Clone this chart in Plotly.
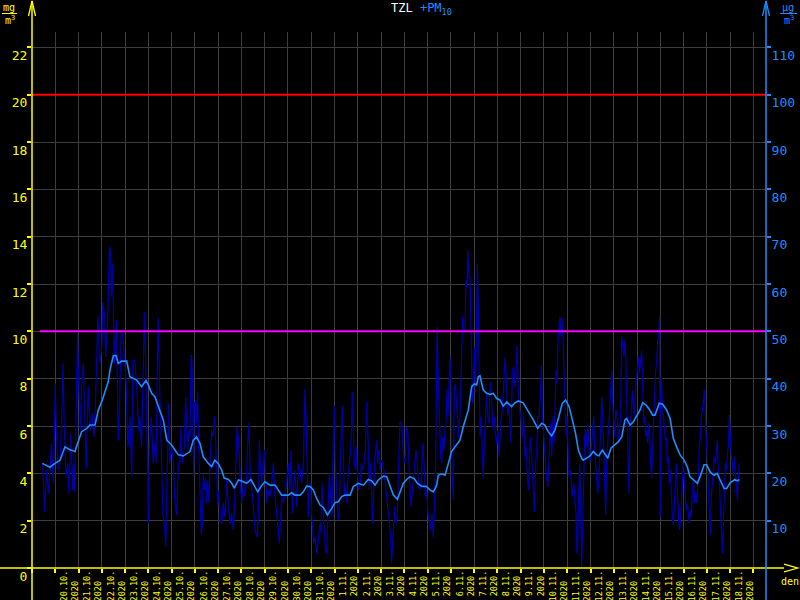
import pandas as pd
import plotly.graph_objects as go

# ---------------- data ----------------
# hours since 2020-10-19 00:00, PM10 hourly concentration (ug/m3)
pm10_hours = [
    11, 13, 15, 17, 19, 20, 22, 24, 25, 27, 29, 30, 32, 33, 35, 37, 38, 40, 42, 43,
    44, 45, 47, 48, 50, 51, 53, 54, 56, 58, 60, 62, 64, 65, 67, 68, 70, 72, 73, 75,
    76, 78, 79, 80, 81, 82, 83, 84, 85, 87, 89, 90, 92, 94, 96, 97, 99, 101, 103, 104,
    106, 108, 110, 111, 113, 115, 116, 118, 120, 121, 123, 125, 127, 128, 130, 132, 134, 135, 137, 138,
    139, 141, 142, 144, 146, 147,
    149.2, 150.9, 152.6, 153.6, 155.0, 157.1, 158.5, 159.5, 160.5, 161.9, 163.0, 164.0, 164.7, 165.7,
    166.7, 167.4, 168.8, 169.8, 170.8, 171.5, 172.6, 173.6, 174.6, 175.7, 176.7, 177.7, 179.1, 180.1,
    181.2, 182.5, 183.6, 185.3, 187.0, 188.0, 189.1, 190.1, 191.5, 192.8, 194.2, 195.6, 197.3, 199.0,
    200.8, 202.5, 204.2, 205.9, 207.6, 209.3, 210.4, 211.4, 212.8, 213.8, 215.2, 216.2, 218.0, 219.7,
    221.4, 222.4, 223.8, 224.8, 225.8, 227.2, 228.6, 230.0, 231.0, 232.0, 233.4, 234.4, 235.5, 236.9,
    237.9, 239.6, 241.0, 242.4, 243.7, 245.4, 247.2, 248.9, 250.6, 252.3, 254.0, 255.1, 256.1, 257.5,
    259.2, 260.9, 262.6, 264.4, 266.1, 267.1, 268.5, 269.5, 271.2, 273.0, 274.7, 276.4, 278.1, 279.8,
    280.8, 281.5, 282.6, 283.9, 285.0, 286.0, 287.4, 288.4, 289.5, 290.5, 291.9, 293.6, 295.3, 296.3,
    297.0, 298.0, 299.1, 300.4, 301.8, 302.8, 303.9, 305.3, 306.6, 308.0, 309.4, 310.8, 311.8, 312.8,
    314.2, 315.6, 316.6, 317.6, 319.0, 320.0, 321.1, 322.1, 323.1, 324.5, 325.9, 327.3, 328.6, 329.7,
    330.3, 331.4, 332.4, 333.8, 334.8, 335.8, 336.9, 338.3, 339.6, 341.0, 342.4, 343.8, 345.1, 346.9,
    347.9, 349.3, 350.3, 351.3, 352.4, 353.7, 355.4, 356.5, 357.5, 358.9, 360.3, 361.6, 363.0, 364.4,
    365.8, 366.8, 367.8, 368.9, 369.9, 370.9, 371.9, 373.0, 374.0, 375.4, 376.8, 378.1, 379.5, 381.2,
    382.3, 383.6, 385.0, 386.4, 387.4, 388.5, 389.8, 390.9, 391.9, 393.3, 394.6, 396.0, 397.4, 398.8,
    400.1, 401.5, 402.9, 404.3, 405.6, 407.0, 408.4, 409.8, 411.1, 412.5, 413.9, 415.3, 416.3, 417.3,
    418.0, 419.0, 420.1, 421.5, 422.5, 423.5, 424.9, 425.9, 427.0, 428.0, 429.0, 430.4, 431.1, 432.1,
    433.1, 434.5, 435.5, 436.6, 438.0, 439.0, 440.0, 441.4, 443.1, 444.1, 445.2,
    446.6, 447.6, 448.7, 449.4, 450.0, 450.7, 451.8, 452.8, 453.5, 454.2, 455.2, 456.2, 457.3, 458.3,
    459.3, 460.4, 461.0, 462.1, 463.1, 464.5, 465.5, 466.5, 467.9, 468.9, 470.0, 471.4, 472.4, 473.4,
    474.1, 475.5, 476.9, 477.9, 479.3, 480.3, 481.7, 482.7, 483.7, 485.1, 486.5, 487.9, 489.2, 490.6,
    492.0, 493.0, 494.0, 495.4, 496.8, 498.2, 499.2, 500.2, 501.6, 503.0, 504.4, 505.7, 507.1, 508.5,
    509.5, 510.5, 511.9, 513.0, 514.0, 515.4, 516.4, 517.4, 518.1, 519.5, 520.5, 521.5, 522.9, 524.3,
    525.3, 526.4, 527.7, 529.1, 530.5, 531.9, 532.9, 533.9, 535.0, 536.0, 537.4, 538.4, 539.4, 540.5,
    541.5, 542.5, 543.6, 544.6, 545.6, 546.6, 547.7, 548.7, 549.7, 550.8, 551.8, 552.8, 553.9, 554.9,
    555.9, 557.0, 558.0, 559.0, 560.1, 561.1, 561.8, 562.8, 563.8, 564.9, 565.9, 566.9, 568.0, 569.0,
    570.0, 571.1, 572.1, 573.1, 574.2, 575.2, 576.2, 577.2, 578.3, 579.3, 580.3, 581.4, 582.4, 583.4,
    584.5, 585.5, 586.5, 587.6, 588.6, 589.6, 590.7, 591.7, 592.7, 593.7, 594.8, 595.8, 596.8, 597.9,
    598.9, 599.9, 601.0,
    602.3, 603.7, 604.7, 605.7, 607.1, 608.1, 609.2, 609.9, 610.5, 611.6, 612.6, 613.6, 614.7, 615.7,
    616.7, 618.1, 619.5, 620.9, 621.9, 622.9, 624.3, 625.3, 626.4, 627.7, 628.8, 629.8, 630.8, 631.9,
    632.9, 633.9, 635.0, 636.0, 637.0, 638.0, 639.1, 640.1, 641.1, 642.2, 643.2, 644.2, 645.3, 646.3,
    647.3, 648.0, 649.0, 650.1, 651.1, 652.1, 653.2, 654.2, 655.2, 656.3, 657.3, 658.3, 659.4, 660.4,
    661.4, 662.5, 663.5, 664.5, 665.5, 666.6, 667.6, 668.6, 669.7, 670.7, 671.7, 672.8, 673.8, 674.8,
    675.9, 676.9, 677.9, 679.0, 680.0, 681.0, 682.1, 683.1, 684.1, 685.1, 686.2, 687.2, 688.2, 689.3,
    690.3, 691.3, 692.4, 693.4, 694.4, 695.5, 696.5, 697.5, 698.6, 699.6, 700.6, 701.6, 702.7, 703.7,
    704.7, 705.8, 706.8, 707.8, 708.9, 709.9, 710.9, 712.0, 713.0, 714.0, 715.1, 716.1, 717.1, 718.2,
    719.2, 720.2, 721.2, 722.3, 723.3, 724.3, 725.4, 726.4, 727.4, 728.5, 729.5,
]
pm10_values = [
    22.1, 11.9, 20.7, 15.8, 22.1, 26.3, 17.9, 39.0, 29.1, 20.7, 23.5, 27.0, 43.2, 32.0, 19.3, 22.1, 15.8, 28.4, 16.5, 22.1,
    16.1, 27.7, 49.6, 40.4, 29.1, 38.3, 43.2, 34.8, 21.0, 38.3, 29.1, 32.7, 27.7, 32.0, 47.4, 53.1, 43.2, 46.7, 56.2, 53.1,
    44.6, 52.4, 59.8, 67.9, 67.2, 57.3, 64.3, 55.2, 43.2, 52.4, 27.0, 32.0, 50.3, 48.2, 41.1, 39.7, 25.6, 32.0, 19.3, 43.9,
    43.9, 38.3, 29.1, 32.0, 25.6, 41.8, 54.1, 36.2, 9.4, 25.6, 32.0, 22.1, 26.3, 22.1, 53.1, 34.8, 20.7, 11.5, 8.0, 4.5,
    16.5, 34.8, 22.1, 25.6, 22.1, 15.1,
    11.2, 22.1, 22.8, 29.8, 22.1, 25.6, 36.2, 29.1, 24.9, 29.1, 27.7, 45.0, 44.6, 39.0,
    19.3, 35.1, 34.8, 30.6, 37.2, 29.1, 17.9, 13.7, 7.0, 9.4, 20.0, 16.5, 18.9, 13.7,
    18.6, 13.7, 22.1, 29.1, 27.7, 32.0, 29.8, 22.1, 13.0, 16.5, 10.1, 9.4, 13.7, 10.8,
    18.6, 13.0, 9.4, 11.5, 8.0, 15.1, 24.9, 29.8, 27.7, 22.1, 17.2, 13.7, 17.9, 15.1,
    19.3, 26.3, 30.6, 22.1, 17.9, 15.8, 11.5, 8.0, 7.3, 6.6, 10.8, 27.0, 22.1, 17.9,
    20.7, 24.9, 18.6, 13.7, 16.5, 15.1, 17.9, 22.1, 15.1, 12.2, 8.0, 5.2, 10.8, 15.1,
    13.7, 15.8, 17.9, 22.1, 16.5, 24.9, 11.5, 15.8, 20.6, 13.0, 22.1, 20.7, 17.9, 22.1,
    30.6, 37.9, 32.0, 22.1, 10.8, 16.5, 17.9, 11.5, 7.3, 5.2, 6.6, 3.1, 5.9, 9.4,
    9.4, 7.3, 17.9, 11.5, 6.6, 3.8, 3.1, 13.0, 20.0, 15.1, 10.8, 27.7, 34.1, 22.1,
    15.1, 10.8, 10.1, 19.3, 29.1, 34.1, 22.1, 15.1, 17.9, 13.7, 19.3, 22.1, 24.9, 29.8,
    37.2, 29.1, 22.1, 20.7, 25.6, 19.3, 16.5, 17.9, 22.1, 20.7, 22.1, 24.9, 35.1, 25.6,
    16.5, 22.1, 13.7, 9.4, 16.5, 23.5, 27.0, 22.1, 24.9, 20.7, 22.8, 22.1, 20.7, 17.9,
    13.7, 12.2, 10.1, 8.0, 6.6, 1.0, 5.9, 10.1, 13.0, 9.4, 11.5, 22.1, 30.9, 30.6,
    26.3, 22.1, 23.5, 29.8, 29.1, 22.1, 16.5, 13.0, 15.1, 17.9, 20.7, 24.9, 22.1, 17.2,
    16.5, 17.9, 26.3, 22.1, 15.1, 16.5, 11.5, 9.4, 8.0, 11.5, 6.6, 15.1, 22.1, 41.8,
    51.0, 39.7, 32.0, 23.5, 22.1, 27.7, 24.9, 29.8, 30.6, 37.6, 32.0, 41.8, 44.6, 39.0,
    20.7, 14.4, 38.3, 39.0, 33.4, 30.6, 27.7, 32.0, 42.5, 53.1, 50.3,
    50.3, 60.8, 59.4, 67.2, 64.3, 61.5, 61.5, 48.9, 42.5, 34.8, 39.0, 46.7, 36.9, 53.1,
    64.3, 53.8, 43.2, 27.7, 32.0, 23.5, 18.9, 27.7, 34.8, 36.9, 32.0, 30.6, 39.0, 39.0,
    34.8, 29.1, 32.0, 28.4, 26.3, 29.1, 23.5, 27.7, 31.3, 33.4, 41.1, 44.6, 39.7, 32.0,
    34.8, 29.1, 26.3, 41.8, 42.5, 38.3, 41.1, 47.1, 37.6, 33.4, 31.3, 27.7, 32.0, 23.5,
    25.6, 21.4, 16.5, 22.1, 27.7, 23.5, 18.6, 15.1, 11.9, 22.1, 24.9, 32.0, 32.0, 36.2,
    42.9, 32.0, 27.7, 22.1, 19.3, 17.2, 22.1, 26.3, 30.6, 23.5, 32.0, 26.3, 32.7, 41.8,
    39.0, 48.2, 51.0, 53.1, 48.9, 52.7, 48.2, 39.7, 37.6, 27.7, 32.0, 23.5, 19.3, 20.7,
    19.3, 15.1, 16.5, 17.9, 13.7, 11.5, 3.1, 6.6, 15.1, 22.1, 13.7, 0.3, 9.4, 16.5,
    27.7, 29.1, 25.6, 30.6, 26.3, 22.1, 23.5, 26.3, 30.6, 32.0, 24.9, 22.1, 20.0, 15.8,
    17.9, 23.5, 26.3, 36.2, 32.0, 25.6, 17.9, 11.2, 22.1, 26.3, 30.6, 36.2, 40.4, 41.8,
    34.8, 30.6, 27.7,
    33.4, 32.0, 26.3, 29.1, 32.0, 48.9, 46.7, 46.0, 44.6, 48.2, 43.2, 32.7, 20.0, 15.8,
    29.1, 33.4, 37.6, 32.0, 36.2, 39.0, 41.8, 44.6, 41.1, 44.6, 46.0, 38.3, 30.6, 32.0,
    27.7, 29.1, 26.3, 30.6, 27.7, 22.1, 18.9, 25.6, 32.0, 37.6, 41.8, 43.2, 48.2, 48.9,
    53.1, 10.8, 40.4, 34.8, 32.0, 29.1, 27.0, 27.6, 22.1, 23.5, 17.9, 20.7, 15.1, 10.8,
    9.1, 13.7, 18.6, 22.1, 16.5, 10.8, 8.0, 9.4, 15.1, 17.9, 22.1, 17.9, 13.7, 12.2,
    13.7, 10.8, 9.4, 12.2, 10.8, 16.5, 18.6, 13.7, 15.8, 13.7, 16.5, 19.3, 25.6, 27.7,
    32.0, 33.4, 34.8, 37.6, 32.0, 26.3, 22.1, 17.9, 11.5, 7.0, 15.1, 17.9, 20.6, 23.5,
    22.1, 24.9, 27.0, 20.7, 17.9, 13.0, 8.0, 3.1, 9.4, 17.9, 22.1, 20.7, 23.5, 26.3,
    32.3, 26.3, 23.5, 22.1, 19.3, 23.5, 20.7, 17.9, 14.4, 19.3, 22.1,
]

# hours since 2020-10-19 00:00, running 24h mean of PM10 (ug/m3)
avg_hours = [
    10.6, 18.5, 23.7, 28.8, 34.0, 39.1, 44.3, 47.8, 51.1, 56.4, 59.8, 65.0, 68.4, 72.0, 75.4, 78.7,
    80.4, 83.8, 86.6, 89.0, 92.4, 97.7, 101.0, 104.4, 108.0, 113.0, 117.6, 120.0, 123.4, 126.7, 130.3, 135.4,
    139.0, 144.0, 148.8, 151.0, 156.0, 159.6, 163.0, 166.3, 169.7, 173.3, 176.6, 181.9, 185.3, 188.6, 192.0, 195.6,
    198.2, 202.6, 206.0, 208.6, 212.9, 216.2, 221.3, 225.8, 229.9, 232.8, 236.2, 240.2, 245.5, 250.6, 253.9, 257.5,
    264.2, 267.8, 271.2, 276.5, 279.8, 283.2, 286.8, 290.2, 293.5, 297.1, 300.5, 304.6, 309.1, 312.5, 315.8, 319.4,
    322.8, 328.1, 331.4, 336.5, 341.8, 346.8, 350.4, 353.8, 357.1, 362.4, 365.8, 369.1, 372.7, 376.8, 379.7, 383.0,
    386.4, 389.8, 394.1, 397.4, 401.8, 407.0, 410.4, 414.0, 417.4, 419.0, 422.4, 426.0, 429.4, 432.7, 436.3, 441.4,
    444.7, 447.5, 450.0, 453.4, 456.2, 458.6, 460.3, 462.0, 463.7, 465.4, 469.0, 472.3, 475.7, 479.3, 482.6, 486.0,
    489.6, 494.6, 498.0, 501.6, 506.6, 510.2, 513.6, 517.0, 521.5, 525.6, 529.0, 532.3, 535.9, 539.3, 543.4, 546.9,
    550.3, 553.9, 557.3, 560.6, 563.5, 566.9, 568.6, 571.9, 575.5, 578.9, 582.2, 584.6, 588.2, 590.9, 593.8, 597.1,
    601.2, 604.8, 608.2, 611.5, 613.2, 616.8, 620.2, 623.5, 627.1, 629.8, 633.4, 636.7, 640.1, 642.5, 647.0, 650.4,
    654.5, 658.1, 661.4, 664.8, 668.4, 672.5, 675.8, 678.5, 682.1, 686.2, 689.0, 693.1, 695.8, 699.4, 703.4, 706.8,
    709.7, 713.8, 716.4, 720.0, 725.0, 727.4, 729.6,
]
avg_values = [
    22.1, 21.3, 22.1, 22.7, 25.6, 25.0, 24.6, 27.0, 28.8, 29.5, 30.2, 30.2, 33.4, 35.2, 37.6, 39.4,
    41.8, 44.8, 44.9, 43.2, 43.7, 43.7, 40.4, 40.1, 39.7, 38.3, 39.6, 38.7, 36.9, 36.2, 34.1, 31.3,
    27.0, 26.0, 24.5, 23.9, 23.7, 24.1, 24.6, 27.0, 27.7, 26.3, 23.5, 22.1, 21.4, 22.8, 22.1, 20.7,
    19.0, 18.7, 17.9, 16.9, 18.6, 18.4, 17.9, 18.7, 17.2, 16.1, 17.2, 18.2, 17.5, 17.5, 16.5, 15.4,
    15.4, 15.9, 15.4, 15.4, 16.1, 17.3, 17.2, 16.5, 14.7, 13.3, 12.8, 11.2, 12.6, 13.8, 14.0, 15.1,
    15.4, 15.4, 17.2, 17.9, 17.5, 18.7, 18.4, 17.5, 18.6, 19.4, 19.3, 17.2, 15.4, 14.5, 16.1, 17.9,
    18.7, 19.3, 18.9, 17.9, 17.3, 17.2, 16.5, 16.1, 17.5, 19.6, 19.9, 19.6, 22.1, 24.6, 25.6, 27.0,
    29.8, 31.5, 33.4, 38.3, 38.9, 38.7, 40.4, 40.6, 39.0, 37.6, 36.9, 36.7, 36.9, 35.8, 35.5, 34.2,
    35.1, 34.1, 34.9, 35.3, 34.9, 33.7, 32.7, 31.3, 29.5, 30.6, 30.2, 28.8, 27.9, 29.1, 32.0, 34.8,
    35.5, 34.1, 31.3, 28.4, 24.9, 23.2, 22.8, 23.2, 23.7, 24.6, 23.9, 23.7, 24.9, 24.1, 23.2, 25.3,
    26.0, 26.7, 27.7, 31.3, 31.6, 30.2, 30.9, 32.0, 33.4, 34.9, 34.4, 33.5, 32.3, 32.3, 34.8, 34.6,
    33.4, 31.6, 27.4, 25.6, 23.9, 22.8, 21.4, 19.3, 18.6, 17.9, 19.3, 21.8, 21.8, 20.3, 19.6, 20.0,
    18.6, 16.8, 16.8, 18.0, 18.7, 18.4, 18.7,
]

day_labels = [
    "20.10.", "21.10.", "22.10.", "23.10.", "24.10.", "25.10.", "26.10.", "27.10.", "28.10.", "29.10.",
    "30.10.", "31.10.", "1.11.", "2.11.", "3.11.", "4.11.", "5.11.", "6.11.", "7.11.", "8.11.",
    "9.11.", "10.11.", "11.11.", "12.11.", "13.11.", "14.11.", "15.11.", "16.11.", "17.11.", "18.11.",
]
year_label = "2020"
left_ticks = [0, 2, 4, 6, 8, 10, 12, 14, 16, 18, 20, 22]
right_ticks = [10, 20, 30, 40, 50, 60, 70, 80, 90, 100, 110]
limit_high = 100   # ug/m3 (red)
limit_day = 50     # ug/m3 (magenta)

# ---------------- styling ----------------
YEL = "#ffff00"
BLU = "#1e8cff"
DARKBLUE = "#0000aa"
GRID = "#3c3c3c"
FONT = "DejaVu Sans Mono"

W, H = 800, 600
L, R, T, B = 32, 766, 32, 568   # plot area in pixels
Y_TOP = 22.65                   # mg/m3 at top of plot area


def px(x):
    return (x - L) / (R - L)


def py(y):
    return (B - y) / (B - T)


base = pd.Timestamp("2020-10-19")
t_pm = base + pd.to_timedelta(pm10_hours, unit="h")
t_avg = base + pd.to_timedelta(avg_hours, unit="h")

label_pos = [base + pd.Timedelta(days=i + 1, hours=15) for i in range(len(day_labels))]
label_txt = []
for d in day_labels:
    pad = "\u00a0" * max(0, len(d) - len(year_label))
    label_txt.append(f"{d}<br>{year_label}{pad}")

x_end = base + pd.Timedelta(hours=757)

fig = go.Figure()
# invisible anchor trace so that the left (mg/m3) axis gets drawn
fig.add_trace(go.Scatter(x=[base], y=[0], mode="markers", marker=dict(opacity=0, size=1),
                         yaxis="y", hoverinfo="skip"))
fig.add_trace(go.Scatter(x=t_pm, y=pm10_values, mode="lines",
                         line=dict(color=DARKBLUE, width=1.2), yaxis="y2",
                         hoverinfo="skip"))
fig.add_trace(go.Scatter(x=t_avg, y=avg_values, mode="lines",
                         line=dict(color=BLU, width=1.6), yaxis="y2",
                         hoverinfo="skip"))

fig.update_layout(
    template="none",
    width=W, height=H,
    margin=dict(l=L, r=W - R, t=T, b=H - B, pad=0),
    paper_bgcolor="black", plot_bgcolor="black",
    font=dict(family=FONT, color=YEL),
    showlegend=False, hovermode=False,
    xaxis=dict(
        type="date", range=[base, x_end], automargin=False,
        tickmode="array", tickvals=label_pos, ticktext=label_txt,
        tickangle=-90, ticks="", showgrid=False, showline=False, zeroline=False,
        tickfont=dict(family=FONT, size=8.5, color=YEL),
        minor=dict(tick0="2020-10-20", dtick=86400000, ticks="outside", ticklen=4,
                   tickwidth=1.5, tickcolor=YEL, showgrid=True,
                   gridcolor=GRID, gridwidth=1),
    ),
    yaxis=dict(
        range=[0, Y_TOP], automargin=False, tickmode="array", tickvals=left_ticks,
        ticks="outside", ticklen=4, tickwidth=1.5, tickcolor=YEL,
        showgrid=True, gridcolor=GRID, gridwidth=1, zeroline=False, showline=False,
        tickfont=dict(family=FONT, size=13, color=YEL),
        ticklabelshift=8, ticklabelstandoff=-3,
    ),
    yaxis2=dict(
        range=[0, Y_TOP * 5], automargin=False, overlaying="y", side="right",
        anchor="x", tickmode="array", tickvals=right_ticks,
        ticks="outside", ticklen=4, tickwidth=1.5, tickcolor=BLU,
        showgrid=False, zeroline=False, showline=False,
        tickfont=dict(family=FONT, size=13, color=BLU),
        ticklabelshift=8, ticklabelstandoff=-2,
    ),
)

shapes = []
# limit lines
shapes.append(dict(type="line", xref="paper", yref="y2", x0=0, x1=1,
                   y0=limit_high, y1=limit_high, line=dict(color="#ff0000", width=2)))
shapes.append(dict(type="line", xref="paper", yref="y2", x0=px(40), x1=1,
                   y0=limit_day, y1=limit_day, line=dict(color="#ff00ff", width=2)))
# axis lines
shapes.append(dict(type="line", xref="paper", yref="paper", x0=px(0), x1=px(784),
                   y0=0, y1=0, line=dict(color=YEL, width=1.5)))
shapes.append(dict(type="line", xref="paper", yref="paper", x0=0, x1=0,
                   y0=py(600), y1=py(1), line=dict(color=YEL, width=1.5)))
shapes.append(dict(type="line", xref="paper", yref="paper", x0=1, x1=1,
                   y0=py(600), y1=py(1), line=dict(color=BLU, width=1.5)))


def path(points):
    return "M " + " L ".join(f"{px(a):.5f},{py(b):.5f}" for a, b in points)


# arrow heads
shapes.append(dict(type="path", xref="paper", yref="paper",
                   path=path([(28.5, 16), (32, 1), (35.5, 16)]),
                   line=dict(color=YEL, width=1.3)))
shapes.append(dict(type="path", xref="paper", yref="paper",
                   path=path([(762.5, 16), (766, 1), (769.5, 16)]),
                   line=dict(color=BLU, width=1.3)))
shapes.append(dict(type="path", xref="paper", yref="paper",
                   path=path([(784, 564), (798, 568), (784, 572)]),
                   line=dict(color=YEL, width=1.3)))
# unit fraction bars
shapes.append(dict(type="line", xref="paper", yref="paper", x0=px(2), x1=px(17),
                   y0=py(13.5), y1=py(13.5), line=dict(color=YEL, width=1)))
shapes.append(dict(type="line", xref="paper", yref="paper", x0=px(780), x1=px(797),
                   y0=py(13.5), y1=py(13.5), line=dict(color=BLU, width=1)))
fig.update_layout(shapes=shapes)

ann = []


def add_text(text, x, y, color, size, xanchor="center", yanchor="middle"):
    ann.append(dict(text=text, x=px(x), y=py(y), xref="paper", yref="paper",
                    showarrow=False, xanchor=xanchor, yanchor=yanchor,
                    font=dict(family=FONT, size=size, color=color)))


add_text("mg", 9, 7, YEL, 10)
add_text("m<sup>3</sup>", 10, 20, YEL, 10)
add_text("\u00b5g", 788, 7, BLU, 10)
add_text("m<sup>3</sup>", 789, 20, BLU, 10)
add_text("den", 790, 581, YEL, 10)
add_text(f"TZL <span style='color:{BLU}'>+PM<sub>10</sub></span>", 421, 9, "white", 12)
fig.update_layout(annotations=ann)

fig.write_html("out.html", config={"displayModeBar": False},
               post_script="document.body.style.margin='0px';")
